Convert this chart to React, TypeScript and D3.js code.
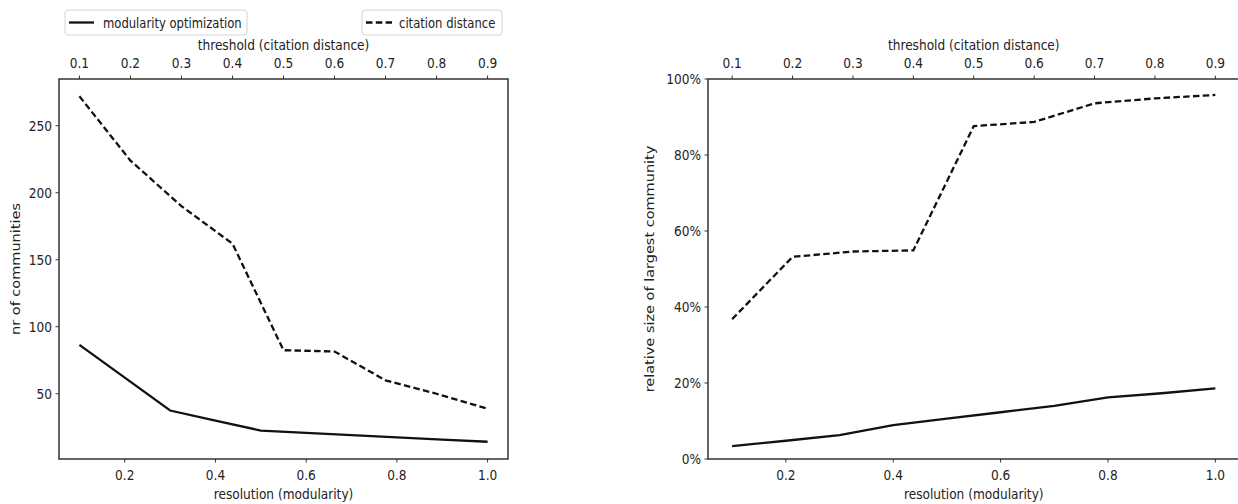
import * as React from "react";
import { scaleLinear, line, extent } from "d3";

// resolution (modularity) on bottom axis, threshold (citation distance) on top
const resolution = [0.1, 0.2, 0.3, 0.4, 0.5, 0.6, 0.7, 0.8, 0.9, 1.0];
const threshold = [0.1, 0.2, 0.3, 0.4, 0.5, 0.6, 0.7, 0.8, 0.9];

// left panel: nr of communities
const modCommunities = [86.5, 62, 37.5, 30, 22.5, 20.8, 19.2, 17.5, 15.8, 14.2];
const citCommunities = [272, 224, 190, 162, 82.5, 81.5, 60, 50, 38.8];

// right panel: relative size of largest community
const modLargest = [0.034, 0.048, 0.063, 0.089, 0.106, 0.123, 0.14, 0.162, 0.173, 0.186];
const citLargest = [0.368, 0.532, 0.546, 0.549, 0.876, 0.887, 0.936, 0.949, 0.958];

const bottomTicks = [0.2, 0.4, 0.6, 0.8, 1.0];
const topTicks = [0.1, 0.2, 0.3, 0.4, 0.5, 0.6, 0.7, 0.8, 0.9];
const leftYTicks = [50, 100, 150, 200, 250];
const rightYTicks = [0, 0.2, 0.4, 0.6, 0.8, 1.0];

const legendLabels = ["modularity optimization", "citation distance"];

const W = 1238;
const H = 504;
const SX = 0.84;
const FONT = "DejaVu Sans";
const FS = 14.5;
const TXT = "#222";
const INK = "#111";
const DASH = "6.5,3.3";

const pad = (vals: number[]) => {
  const [a, b] = extent(vals) as [number, number];
  const m = (b - a) * 0.05;
  return [a - m, b + m];
};

const T = (p: { x: number; y: number; anchor?: string; rot?: boolean; sx?: number; children: any }) => (
  <g transform={`translate(${p.x},${p.y}) scale(${p.sx || SX},1)${p.rot ? " rotate(-90)" : ""}`}>
    <text textAnchor={p.anchor || "middle"} fontFamily={FONT} fontSize={FS} fill={TXT}>
      {p.children}
    </text>
  </g>
);

const Panel = (props: any) => {
  const { left, right, top, bottom, modY, citY, yTicks, yDomain, yFmt, ylabel, ylabelX } = props;

  const xBottom = scaleLinear().domain(pad(resolution)).range([left, right]);
  const xTop = scaleLinear().domain(pad(threshold)).range([left, right]);
  const y = scaleLinear().domain(yDomain).range([bottom, top]);

  const modLine = line<number>()
    .x((_, i) => xBottom(resolution[i]))
    .y((d) => y(d));
  const citLine = line<number>()
    .x((_, i) => xTop(threshold[i]))
    .y((d) => y(d));

  const cx = (left + right) / 2;

  return (
    <g>
      <path d={citLine(citY) || ""} fill="none" stroke={INK} strokeWidth={2.3} strokeDasharray={DASH} />
      <path d={modLine(modY) || ""} fill="none" stroke={INK} strokeWidth={2.3} />
      <rect x={left} y={top} width={right - left} height={bottom - top} fill="none" stroke="#333" strokeWidth={1.5} />

      {bottomTicks.map((t) => (
        <g key={`b${t}`}>
          <line x1={xBottom(t)} x2={xBottom(t)} y1={bottom} y2={bottom + 3.5} stroke="#333" strokeWidth={1} />
          <T x={xBottom(t)} y={479.5}>{t.toFixed(1)}</T>
        </g>
      ))}
      {topTicks.map((t) => (
        <g key={`t${t}`}>
          <line x1={xTop(t)} x2={xTop(t)} y1={top} y2={top - 3.5} stroke="#333" strokeWidth={1} />
          <T x={xTop(t)} y={68}>{t.toFixed(1)}</T>
        </g>
      ))}
      {yTicks.map((t: number) => (
        <g key={`y${t}`}>
          <line x1={left} x2={left - 3.5} y1={y(t)} y2={y(t)} stroke="#333" strokeWidth={1} />
          <T x={left - 7} y={y(t) + 5.2} anchor="end">{yFmt(t)}</T>
        </g>
      ))}

      <T x={cx} y={50}>threshold (citation distance)</T>
      <T x={cx} y={499}>resolution (modularity)</T>
      <T x={ylabelX} y={(top + bottom) / 2} rot>{ylabel}</T>
    </g>
  );
};

const Legend = () => (
  <g>
    <rect x={65} y={10} width={182} height={25} rx={3} fill="#fff" stroke="#d4d4d4" strokeWidth={1} />
    <line x1={69} x2={94} y1={22.5} y2={22.5} stroke={INK} strokeWidth={2.3} />
    <T x={103} y={27.5} anchor="start" sx={0.8}>{legendLabels[0]}</T>
    <rect x={362} y={10} width={140} height={25} rx={3} fill="#fff" stroke="#d4d4d4" strokeWidth={1} />
    <line x1={366} x2={392} y1={22.5} y2={22.5} stroke={INK} strokeWidth={2.3} strokeDasharray={DASH} />
    <T x={399} y={27.5} anchor="start" sx={0.8}>{legendLabels[1]}</T>
  </g>
);

export default function App() {
  return (
    <svg
      width={W}
      height={H}
      style={{ position: "absolute", left: 0, top: 0, background: "#fff" }}
    >
      <rect width={W} height={H} fill="#fff" />
      <Panel
        left={59}
        right={508}
        top={79}
        bottom={459}
        modY={modCommunities}
        citY={citCommunities}
        yTicks={leftYTicks}
        yDomain={pad([...modCommunities, ...citCommunities])}
        yFmt={(v: number) => `${v}`}
        ylabel="nr of communities"
        ylabelX={20}
      />
      <Panel
        left={708}
        right={1239.5}
        top={79}
        bottom={459}
        modY={modLargest}
        citY={citLargest}
        yTicks={rightYTicks}
        yDomain={[0, 1]}
        yFmt={(v: number) => `${Math.round(v * 100)}%`}
        ylabel="relative size of largest community"
        ylabelX={654}
      />
      <Legend />
    </svg>
  );
}
